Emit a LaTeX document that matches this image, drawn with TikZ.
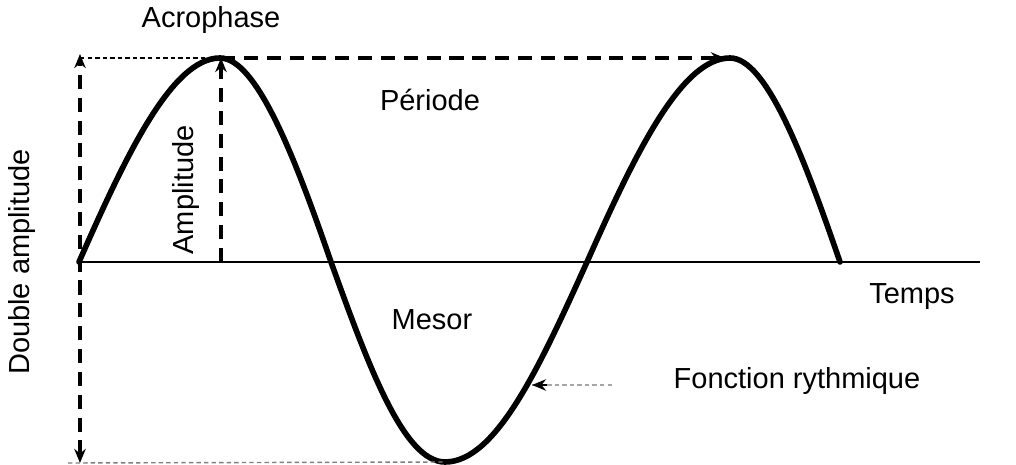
\documentclass[tikz,border=0pt]{standalone}
\usepackage{fontspec}
\setmainfont{Liberation Sans}
\usetikzlibrary{arrows.meta}
\begin{document}
\begin{tikzpicture}[>={Stealth[length=8pt,width=6.5pt]},line width=1pt,font=\fontsize{16.5}{20}\selectfont,
  bigdash/.style={line width=2pt,dash pattern=on 8pt off 5pt},
  finedash/.style={line width=0.8pt,dash pattern=on 2.5pt off 1.8pt}]
  \useasboundingbox (-1.58,-4.06) rectangle (18.74,5.24);

  % 时间轴
  \coordinate (O) at (0,0);
  \coordinate (tend) at (18.02,0);
  \draw (O) -- (tend);
  \node (temps) at (16.66,-0.70) {Temps};

  % 曲线
  \coordinate (crestA) at (2.82,4.08);
  \coordinate (crestB) at (13.02,4.08);
  \coordinate (trough) at (7.32,-4.0);
  \coordinate (zeroA) at (5.04,0);
  \coordinate (zeroB) at (10.16,0);
  \coordinate (stop) at (15.22,0);
  \draw[line width=3.2pt,line cap=round]
    (O) .. controls (0.92,2.09) and (1.85,4.08) .. (crestA)
    .. controls (3.55,4.08) and (4.32,2.09) .. (zeroA)
    .. controls (5.78,-2.05) and (6.49,-4.0) .. (trough)
    .. controls (8.35,-4.0) and (9.23,-2.05) .. (zeroB)
    .. controls (11.09,2.09) and (12.03,4.08) .. (crestB)
    .. controls (13.75,4.08) and (14.50,2.09) .. (stop);

  % 双振幅
  \coordinate (dtop) at (0.02,4.16);
  \coordinate (dbot) at (0.02,-4.02);
  \draw[bigdash,<->] (dbot) -- (dtop);
  \node[rotate=90] (double) at (-1.14,0) {Double amplitude};
  \coordinate (topleft) at (0.02,4.08);
  \coordinate (botleft) at (-0.22,-4.02);
  \draw[finedash] (topleft) -- (crestA);
  \draw[finedash,gray] (botleft) -- (trough);

  % 振幅
  \coordinate (abase) at (2.84,0);
  \coordinate (atop) at (2.84,4.08);
  \draw[bigdash,->] (abase) -- (atop);
  \node[rotate=90] (ampl) at (2.14,1.44) {Amplitude};

  % 周期
  \coordinate (pend) at (12.92,4.08);
  \draw[bigdash,->] (atop) -- (pend);
  \node (periode) at (7.02,3.24) {Période};
  \node (acro) at (2.64,4.84) {Acrophase};

  % 其他标注
  \node (mesor) at (7.06,-1.16) {Mesor};
  \node (fonction) at (14.36,-2.38) {Fonction rythmique};
  \coordinate (ftail) at (10.66,-2.46);
  \coordinate (fmid) at (9.36,-2.46);
  \coordinate (fhead) at (9.06,-2.46);
  \draw[finedash,gray!70] (ftail) -- (fhead);
  \draw[->,line width=1.2pt] (fmid) -- (fhead);
\end{tikzpicture}
\end{document}
